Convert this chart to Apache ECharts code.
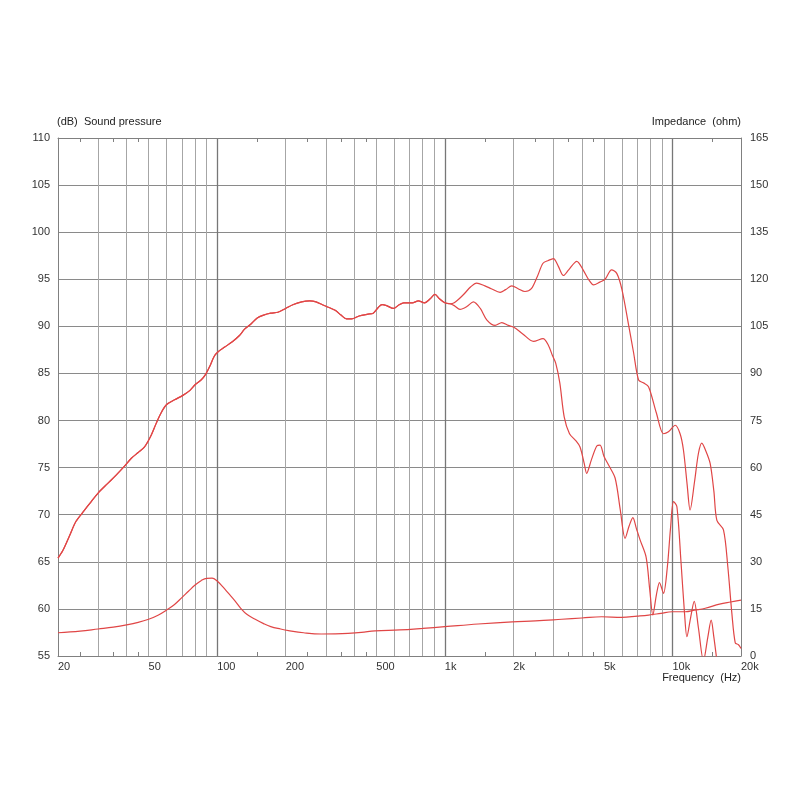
<!DOCTYPE html>
<html>
<head>
<meta charset="utf-8">
<script src="https://cdn.jsdelivr.net/npm/echarts@6/dist/echarts.min.js"></script>
<style>html,body{margin:0;padding:0;background:#fff}#c{width:800px;height:800px}</style>
</head>
<body>
<div id="c"></div>
<script>
// ---- data ----
const commonFreq = [20,21,22.5,24,26,28,30,33,36,39,42,45,48,51,54,57,60,65,71,76,80,85,89,93,97,101,108,117,125,132,140,150,160,172,185,200,215,235,255,272,290,310,330,350,370,390,420,460,485,510,530,555,595,630,660,720,765,815,860,905,950,1000,1050];
const commonSpl = [65.4,66.2,67.8,69.3,70.4,71.4,72.3,73.3,74.2,75.1,76.0,76.6,77.2,78.3,79.7,80.9,81.7,82.2,82.7,83.2,83.8,84.3,84.9,85.8,86.8,87.3,87.8,88.4,89.0,89.7,90.2,90.9,91.2,91.4,91.5,91.9,92.3,92.6,92.7,92.6,92.3,92.0,91.7,91.2,90.8,90.8,91.1,91.3,91.4,92.0,92.3,92.2,91.9,92.3,92.5,92.5,92.7,92.5,92.9,93.4,92.9,92.5,92.4];

const tailAFreq = [1100,1200,1300,1380,1500,1600,1750,1850,1970,2100,2250,2400,2550,2700,2850,3000,3150,3320,3500,3800,4050,4300,4500,4800,5060,5400,5700,6000,6400,6750,7100,7450,7850,8500,9130,9600,10280,10800,11170,11600,11950,12500,13000,13450,14000,14640,15200,15670,16750,17500,18240,18870,19500,20000];
const tailASpl = [92.5,93.3,94.2,94.6,94.3,94.0,93.6,93.9,94.3,94.0,93.7,94.0,95.3,96.7,97.0,97.2,96.4,95.4,96.0,96.9,96.0,94.9,94.4,94.7,95.0,96.0,95.6,93.9,90.3,87.2,84.3,84.0,83.6,80.8,78.6,78.8,79.5,78.6,76.9,73.2,70.5,73.5,76.5,77.6,76.8,75.45,72.5,69.4,68.4,64.5,59.5,56.4,56.2,55.8];

const tailBFreq = [1100,1166,1250,1335,1432,1528,1663,1780,1900,2010,2200,2450,2700,2850,2970,3070,3200,3345,3530,3750,3926,4100,4198,4400,4650,4808,5000,5232,5598,5900,6194,6450,6700,6950,7213,7660,7950,8200,8500,8770,9131,9500,9800,10110,10460,10900,11300,11570,12000,12460,13000,13680,14300,14790,15200,15670,16500,20000];
const tailBSpl = [92.2,91.8,92.1,92.6,91.9,90.7,90.1,90.4,90.1,89.9,89.2,88.4,88.7,88.0,86.9,86.1,84.0,80.4,78.6,77.9,77.2,75.4,74.4,75.8,77.3,77.4,76.2,75.3,73.9,70.5,67.5,68.8,69.7,68.5,67.3,65.5,62.0,59.35,61.5,62.8,61.65,64.5,68.5,71.4,70.85,65.0,59.5,57.05,59.0,60.8,58.0,54.5,57.0,58.8,57.0,54.5,50,50];

const impFreq = [20,25,30,35,40,45,50,55,60,65,70,75,80,85,90,95,100,106,112,120,127,135,147,160,172,190,206,240,287,330,376,430,494,634,800,1000,1400,1978,2500,3265,4000,4890,5990,7000,7860,8900,9970,11400,12500,13930,16100,18000,20000];
const impOhm = [7.4,7.9,8.6,9.2,9.9,10.7,11.7,13.0,14.65,16.4,18.6,20.7,22.6,24.0,24.75,24.8,23.9,22.0,20.0,17.5,15.2,13.3,11.7,10.3,9.35,8.6,8.1,7.4,7.0,7.05,7.2,7.5,8.0,8.3,8.8,9.35,10.2,10.9,11.2,11.7,12.1,12.5,12.3,12.7,13.05,13.6,14.1,14.1,14.6,15.2,16.5,17.2,17.8];

const xLabelValues = [20,50,100,200,500,1000,2000,5000,10000,20000];
const gridFreqs = [30,40,50,60,70,80,90,200,300,400,500,600,700,800,900,2000,3000,4000,5000,6000,7000,8000,9000];
const decadeFreqs = [100,1000,10000];
const minorTickFreqs = [25,35,45,150,250,350,450,1500,2500,3500,4500,15000];

// ---- build ----
const zip = (a, b) => a.map((v, i) => [v, b[i]]);
const splA = zip(commonFreq.concat(tailAFreq), commonSpl.concat(tailASpl));
const splB = zip(commonFreq.concat(tailBFreq), commonSpl.concat(tailBSpl));
const imp = zip(impFreq, impOhm);

const fmtHz = v => v >= 1000 ? (v / 1000) + 'k' : String(v);
const FONT = 'Liberation Sans, Arial, sans-serif';
const RED = '#e04646';
const gridRect = {left: 58, top: 138, width: 683, height: 518};

const chart = echarts.init(document.getElementById('c'), null, {renderer: 'canvas'});
chart.setOption({
  animation: false,
  backgroundColor: '#fff',
  grid: Object.assign({show: false, containLabel: false}, gridRect),
  xAxis: [
    {
      type: 'log', logBase: 10, min: 20, max: 20000, position: 'bottom',
      axisLine: {show: true, lineStyle: {color: '#808080', width: 1}},
      axisTick: {show: false, customValues: gridFreqs},
      axisLabel: {show: true, customValues: xLabelValues, formatter: fmtHz, align: 'left', margin: 5,
        color: '#333', fontSize: 11, fontFamily: FONT},
      splitLine: {show: true, lineStyle: {color: '#a6a6a6', width: 1}}
    },
    {
      type: 'log', logBase: 10, min: 20, max: 20000, position: 'bottom',
      axisLine: {show: false},
      axisTick: {show: false, customValues: decadeFreqs},
      axisLabel: {show: false},
      splitLine: {show: true, lineStyle: {color: '#777', width: 1.3}}
    },
    {
      type: 'log', logBase: 10, min: 20, max: 20000, position: 'bottom',
      axisLine: {show: false},
      axisTick: {show: true, inside: true, length: 4, customValues: minorTickFreqs, lineStyle: {color: '#808080'}},
      axisLabel: {show: false},
      splitLine: {show: false}
    },
    {
      type: 'log', logBase: 10, min: 20, max: 20000, position: 'top',
      axisLine: {show: true, lineStyle: {color: '#808080', width: 1}},
      axisTick: {show: true, inside: true, length: 4, customValues: minorTickFreqs, lineStyle: {color: '#808080'}},
      axisLabel: {show: false},
      splitLine: {show: false}
    }
  ],
  yAxis: [
    {
      type: 'value', min: 55, max: 110, interval: 5, position: 'left',
      axisLine: {show: true, lineStyle: {color: '#808080'}},
      axisTick: {show: false},
      axisLabel: {color: '#333', fontSize: 11, fontFamily: FONT, margin: 8},
      splitLine: {show: true, lineStyle: {color: '#8a8a8a', width: 1}}
    },
    {
      type: 'value', min: 0, max: 165, interval: 15, position: 'right',
      axisLine: {show: true, lineStyle: {color: '#808080'}},
      axisTick: {show: false},
      axisLabel: {color: '#333', fontSize: 11, fontFamily: FONT, margin: 9},
      splitLine: {show: false}
    }
  ],
  series: [
    {type: 'line', name: 'SPL on-axis', data: splA, xAxisIndex: 0, yAxisIndex: 0, showSymbol: false, smooth: 0.3,
     clip: true, lineStyle: {color: RED, width: 1.2}, itemStyle: {color: RED}},
    {type: 'line', name: 'SPL off-axis', data: splB, xAxisIndex: 0, yAxisIndex: 0, showSymbol: false, smooth: 0.3,
     clip: true, lineStyle: {color: RED, width: 1.2}, itemStyle: {color: RED}},
    {type: 'line', name: 'Impedance', data: imp, xAxisIndex: 0, yAxisIndex: 1, showSymbol: false, smooth: 0.4,
     clip: true, lineStyle: {color: RED, width: 1.2}, itemStyle: {color: RED}}
  ],
  graphic: [
    {type: 'text', left: 57, top: 116, style: {text: '(dB)  Sound pressure', fill: '#222', font: '11px ' + FONT}},
    {type: 'text', right: 59, top: 116, style: {text: 'Impedance  (ohm)', fill: '#222', font: '11px ' + FONT, textAlign: 'right'}},
    {type: 'text', right: 59, top: 672, style: {text: 'Frequency  (Hz)', fill: '#222', font: '11px ' + FONT, textAlign: 'right'}}
  ]
});
</script>
</body>
</html>
